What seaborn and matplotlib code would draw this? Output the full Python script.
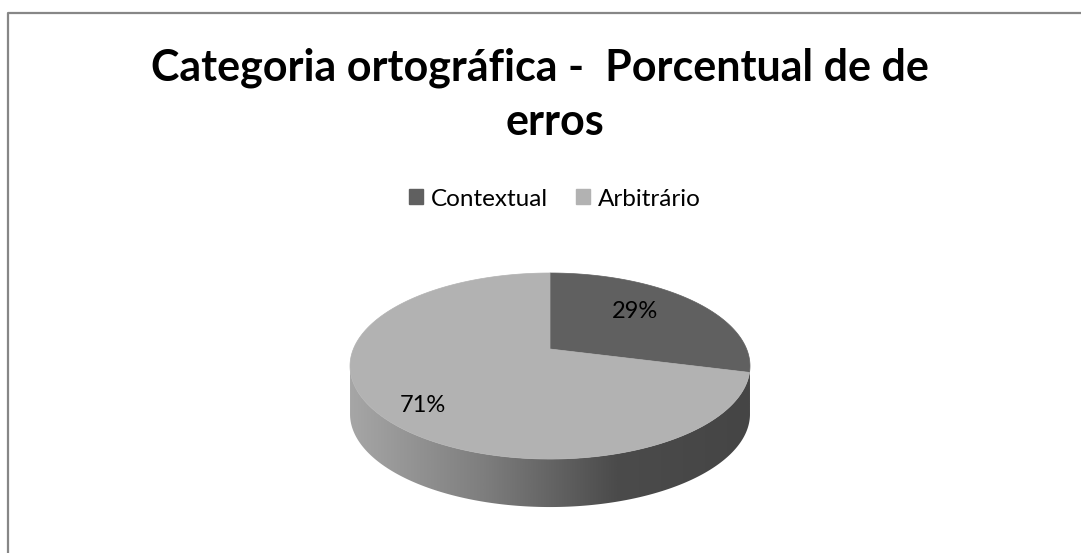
import numpy as np
import matplotlib
matplotlib.use("Agg")
import matplotlib.pyplot as plt
from matplotlib.patches import Polygon, Patch
import seaborn as sns

categories = ["Contextual", "Arbitrário"]
shares = [29, 71]
pct_labels = ["29%", "71%"]
top_colors = ["#606060", "#b2b2b2"]
title_lines = ["Categoria ortográfica -  Porcentual de de", "erros"]

sns.set_style("white")
plt.rcParams["font.family"] = ["Lato", "DejaVu Sans"]
plt.rcParams["text.color"] = "black"

W, H = 1081, 553
fig = plt.figure(figsize=(W / 100, H / 100), dpi=100)
ax = fig.add_axes([0, 0, 1, 1])
ax.set_xlim(0, W)
ax.set_ylim(H, 0)
ax.axis("off")

# outer chart frame (only left and top visible in the crop)
ax.plot([8, 8, W + 5], [H + 5, 13, 13], color="#878787", lw=1.6, solid_capstyle="butt")

# pie geometry in pixels: a tilted disk with a little perspective
cx, cy = 550, 349
a, b, q = 196.6, 89.9, 0.183
depth = 48


def proj(theta, r=1.0):
    s = -r * np.sin(theta)
    den = 1 - q * s
    return cx + a * r * np.cos(theta) / den, cy + b * s / den


# side band, shaded left to right with a gradient image clipped to it
side_cmap = sns.blend_palette(["#a6a6a6", "#7e7e7e", "#4b4b4b", "#454545"], as_cmap=True)
alpha = np.arcsin(q)
th = np.linspace(np.pi + alpha, 2 * np.pi - alpha, 400)
xs, ys = proj(th)
band = list(zip(xs, ys)) + list(zip(xs[::-1], ys[::-1] + depth))
band_patch = Polygon(band, closed=True, fc="none", ec="none")
ax.add_patch(band_patch)
x0, x1 = xs.min(), xs.max()
grad = np.linspace(0, 1, 512)[None, :]
img = ax.imshow(grad, cmap=side_cmap, aspect="auto", interpolation="bilinear",
                extent=[x0, x1, ys.max() + depth + 2, ys.min() - 2], zorder=1)
img.set_clip_path(band_patch)
ax.set_xlim(0, W)
ax.set_ylim(H, 0)

# top face wedges, starting at 12 o'clock, clockwise
start = 90.0
mids = []
for share, col in zip(shares, top_colors):
    end = start - share / sum(shares) * 360
    arc = np.radians(np.linspace(start, end, 300))
    px, py = proj(arc)
    pts = [(cx, cy)] + list(zip(px, py))
    ax.add_patch(Polygon(pts, closed=True, fc=col, ec=col, lw=0.5, zorder=2))
    mids.append(np.radians((start + end) / 2))
    start = end

# percentage labels
label_r = [0.58, 0.75]
for m, r, lab in zip(mids, label_r, pct_labels):
    lx, ly = proj(m, r)
    ly = cy + (ly - cy) * 1.25
    ax.text(lx, ly, lab, ha="center", va="center", fontsize=17, zorder=3)

# title
ax.text(540, 80, title_lines[0], ha="center", va="baseline", fontsize=31, fontweight="bold")
ax.text(555, 135, title_lines[1], ha="center", va="baseline", fontsize=31, fontweight="bold")

# legend
handles = [Patch(fc=c, ec=c, label=n) for n, c in zip(categories, top_colors)]
ax.legend(handles=handles, loc="center", bbox_to_anchor=(555 / W, 1 - 199 / H), ncol=2,
          frameon=False, fontsize=17.5, handlelength=0.58, handleheight=0.58,
          handletextpad=0.33, columnspacing=1.15, borderaxespad=0)

fig.savefig("out.png", dpi=100)
